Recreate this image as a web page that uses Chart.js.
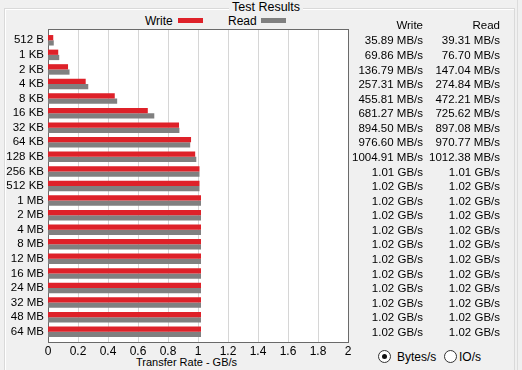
<!DOCTYPE html>
<html>
<head>
<meta charset="utf-8">
<script src="https://cdn.jsdelivr.net/npm/chart.js@4"></script>
<style>
  html, body { margin: 0; padding: 0; }
  body { width: 522px; height: 370px; background: #f0f0f0; position: relative; overflow: hidden;
         font-family: "Liberation Sans", Arial, sans-serif; font-size: 12px; color: #000; }
  .group { position: absolute; left: 4px; top: 8px; width: 509px; height: 380px;
           border: 1px solid #d9d9d9; box-shadow: 1px 1px 0 #fff inset; }
  .edge { position: absolute; left: 517px; top: 0; width: 1px; height: 370px; background: #dcdcdc; }
  .lbl { position: absolute; white-space: nowrap; line-height: 14px; }
  .swatch { position: absolute; height: 5px; width: 25px; }
  .radio { position: absolute; width: 11px; height: 11px; border: 1px solid #333; border-radius: 50%; background: #fff; }
  .radio.on::after { content: ""; position: absolute; left: 3px; top: 3px; width: 5px; height: 5px; border-radius: 50%; background: #111; }
  canvas { position: absolute; left: 0; top: 0; }
</style>
</head>
<body>
<div class="group"></div>
<div class="edge"></div>
<div class="lbl" style="left:229px;top:0px;background:#f0f0f0;padding:0 3px;font-size:12.5px;">Test Results</div>
<div class="lbl" style="left:145px;top:14px;">Write</div>
<div class="swatch" style="left:178px;top:18px;background:#de2129;"></div>
<div class="lbl" style="left:228px;top:14px;">Read</div>
<div class="swatch" style="left:261px;top:18px;background:#808080;"></div>
<div class="lbl" style="left:136px;top:355px;font-size:11px;">Transfer Rate - GB/s</div>
<div class="radio on" style="left:378px;top:350px;"></div>
<div class="lbl" style="left:397px;top:350px;">Bytes/s</div>
<div class="radio" style="left:444px;top:350px;"></div>
<div class="lbl" style="left:459px;top:350px;">IO/s</div>
<canvas id="chart" width="522" height="370"></canvas>
<script>
// block sizes tested
const categories = ['512 B', '1 KB', '2 KB', '4 KB', '8 KB', '16 KB', '32 KB', '64 KB', '128 KB',
  '256 KB', '512 KB', '1 MB', '2 MB', '4 MB', '8 MB', '12 MB', '16 MB', '24 MB', '32 MB', '48 MB', '64 MB'];

// transfer rates in GB/s (MB/s figures / 1024)
const writeRate = [0.0350, 0.0682, 0.1336, 0.2513, 0.4451, 0.6653, 0.8735, 0.9537, 0.9813,
  1.01, 1.01, 1.02, 1.02, 1.02, 1.02, 1.02, 1.02, 1.02, 1.02, 1.02, 1.02];
const readRate = [0.0384, 0.0749, 0.1436, 0.2684, 0.4611, 0.7086, 0.8761, 0.9480, 0.9887,
  1.01, 1.01, 1.02, 1.02, 1.02, 1.02, 1.02, 1.02, 1.02, 1.02, 1.02, 1.02];

// figures printed in the results table
const writeText = ['35.89 MB/s', '69.86 MB/s', '136.79 MB/s', '257.31 MB/s', '455.81 MB/s', '681.27 MB/s',
  '894.50 MB/s', '976.60 MB/s', '1004.91 MB/s', '1.01 GB/s', '1.02 GB/s', '1.02 GB/s', '1.02 GB/s',
  '1.02 GB/s', '1.02 GB/s', '1.02 GB/s', '1.02 GB/s', '1.02 GB/s', '1.02 GB/s', '1.02 GB/s', '1.02 GB/s'];
const readText = ['39.31 MB/s', '76.70 MB/s', '147.04 MB/s', '274.84 MB/s', '472.21 MB/s', '725.62 MB/s',
  '897.08 MB/s', '970.77 MB/s', '1012.38 MB/s', '1.01 GB/s', '1.02 GB/s', '1.02 GB/s', '1.02 GB/s',
  '1.02 GB/s', '1.02 GB/s', '1.02 GB/s', '1.02 GB/s', '1.02 GB/s', '1.02 GB/s', '1.02 GB/s', '1.02 GB/s'];

const xTicks = [0, 0.2, 0.4, 0.6, 0.8, 1, 1.2, 1.4, 1.6, 1.8, 2];

const FONT = { family: '"Liberation Sans", Arial, sans-serif', size: 11 };

// white plot box with frame and vertical grid, a bit taller than the chart area
const plotBox = {
  id: 'plotBox',
  beforeDatasetsDraw(chart) {
    const { ctx, chartArea: a, scales } = chart;
    const top = a.top - 4, bottom = a.bottom + 3;
    ctx.save();
    ctx.fillStyle = '#fff';
    ctx.fillRect(a.left, top, a.right - a.left, bottom - top);
    ctx.strokeStyle = '#d6d6d6';
    ctx.lineWidth = 1;
    xTicks.slice(1, -1).forEach(v => {
      const x = Math.round(scales.x.getPixelForValue(v)) + 0.5;
      ctx.beginPath();
      ctx.moveTo(x, top);
      ctx.lineTo(x, bottom);
      ctx.stroke();
    });
    ctx.strokeStyle = '#6a6a6a';
    ctx.strokeRect(Math.round(a.left) + 0.5, top + 0.5, Math.round(a.right - a.left), bottom - top);
    ctx.restore();
  },
  afterDraw(chart) {
    const { ctx, scales } = chart;
    ctx.save();
    ctx.font = '11.5px ' + FONT.family;
    ctx.fillStyle = '#000';
    ctx.textAlign = 'right';
    ctx.textBaseline = 'middle';
    ctx.fillText('Write', 423, 26);
    ctx.fillText('Read', 500, 26);
    categories.forEach((c, i) => {
      const y = scales.y.getPixelForValue(i) + 1;
      ctx.fillText(writeText[i], 423, y);
      ctx.fillText(readText[i], 500, y);
    });
    ctx.restore();
  }
};

new Chart(document.getElementById('chart'), {
  type: 'bar',
  data: {
    labels: categories,
    datasets: [
      { label: 'Write', data: writeRate, backgroundColor: '#de2129', categoryPercentage: 0.72, barPercentage: 1 },
      { label: 'Read', data: readRate, backgroundColor: '#808080', categoryPercentage: 0.72, barPercentage: 1 }
    ]
  },
  options: {
    indexAxis: 'y',
    responsive: false,
    devicePixelRatio: 1,
    animation: false,
    layout: { padding: { left: 0, top: 33, right: 174, bottom: 0 } },
    plugins: { legend: { display: false }, tooltip: { enabled: false } },
    scales: {
      x: {
        min: 0,
        max: 2,
        afterFit: s => { s.height = 31; },
        afterBuildTicks: s => { s.ticks = xTicks.map(v => ({ value: v })); },
        grid: { display: false, drawTicks: false },
        border: { display: false },
        ticks: { color: '#000', font: { family: FONT.family, size: 12 }, padding: 5, maxRotation: 0, callback: v => String(+v.toFixed(1)) }
      },
      y: {
        afterFit: s => { s.width = 48; },
        grid: { display: false, drawTicks: false },
        border: { display: false },
        ticks: { color: '#000', font: { family: FONT.family, size: 11.5 }, padding: 4, autoSkip: false }
      }
    }
  },
  plugins: [plotBox]
});
</script>
</body>
</html>
